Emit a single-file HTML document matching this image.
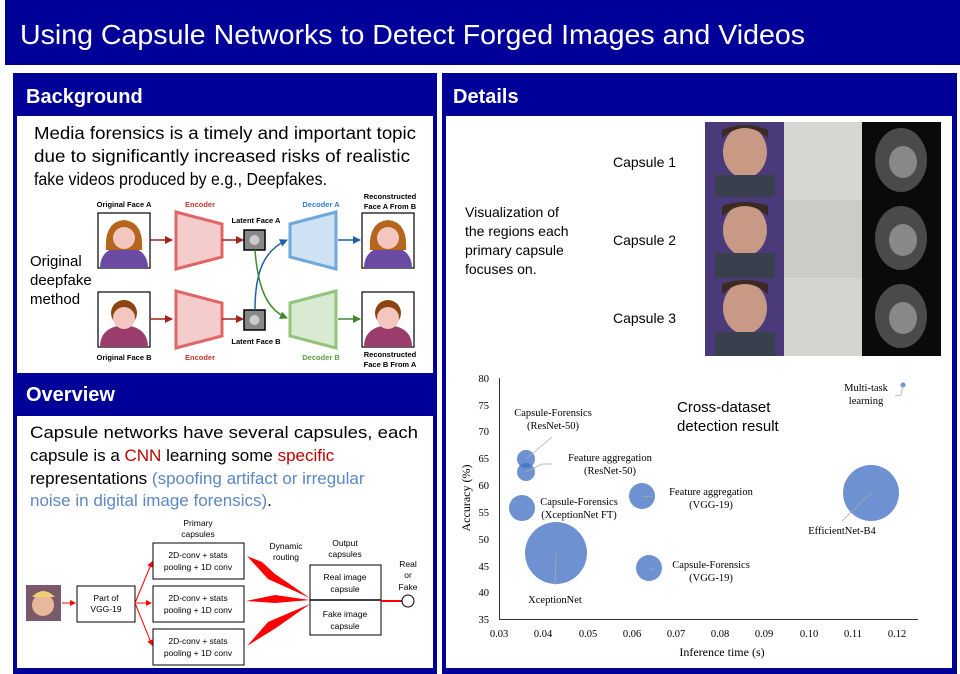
<!DOCTYPE html>
<html><head><meta charset="utf-8"><style>
html,body{margin:0;padding:0;background:#fff;}
svg{display:block;}
text{font-family:"Liberation Sans",sans-serif;}
.ser text, text.ser{font-family:"Liberation Serif",serif;}
</style></head><body>
<svg width="960" height="674" viewBox="0 0 960 674" xmlns="http://www.w3.org/2000/svg">
<defs>
<marker id="ar" markerWidth="8" markerHeight="8" refX="7" refY="4" orient="auto" markerUnits="userSpaceOnUse"><path d="M0,0 L8,4 L0,8 Z" fill="#a3231f"/></marker>
<marker id="ab" markerWidth="8" markerHeight="8" refX="7" refY="4" orient="auto" markerUnits="userSpaceOnUse"><path d="M0,0 L8,4 L0,8 Z" fill="#1f5fa3"/></marker>
<marker id="ag" markerWidth="8" markerHeight="8" refX="7" refY="4" orient="auto" markerUnits="userSpaceOnUse"><path d="M0,0 L8,4 L0,8 Z" fill="#3e8a2a"/></marker>
<marker id="rr" markerWidth="6" markerHeight="6" refX="5" refY="3" orient="auto" markerUnits="userSpaceOnUse"><path d="M0,0 L6,3 L0,6 Z" fill="#f00"/></marker>
</defs>
<!-- title -->
<rect x="5" y="0" width="955" height="65" fill="#000099"/>
<text x="20" y="44" font-size="28" fill="#fff" textLength="785" lengthAdjust="spacingAndGlyphs">Using Capsule Networks to Detect Forged Images and Videos</text>
<!-- left panel -->
<rect x="13" y="73" width="424" height="601" fill="#000099"/>
<rect x="17" y="116" width="416" height="257" fill="#fff"/>
<rect x="17" y="416" width="416" height="252" fill="#fff"/>
<text x="26" y="103" font-size="20" font-weight="bold" fill="#fff">Background</text>
<text x="26" y="401" font-size="20" font-weight="bold" fill="#fff">Overview</text>
<!-- right panel -->
<rect x="442" y="73" width="515" height="601" fill="#000099"/>
<rect x="446" y="116" width="506" height="552" fill="#fff"/>
<text x="453" y="103" font-size="20" font-weight="bold" fill="#fff">Details</text>

<!-- background text -->
<g font-size="17.5" fill="#000">
<text x="34" y="139" textLength="382" lengthAdjust="spacingAndGlyphs">Media forensics is a timely and important topic</text>
<text x="34" y="162" textLength="376" lengthAdjust="spacingAndGlyphs">due to significantly increased risks of realistic</text>
<text x="34" y="185" textLength="293" lengthAdjust="spacingAndGlyphs">fake videos produced by e.g., Deepfakes.</text>
</g>
<g font-size="15" fill="#000">
<text x="30" y="266">Original</text>
<text x="30" y="285">deepfake</text>
<text x="30" y="304">method</text>
</g>
<!-- deepfake diagram -->
<g font-size="7.5" font-weight="bold" text-anchor="middle">
<text x="124" y="207">Original Face A</text>
<text x="124" y="360">Original Face B</text>
<text x="200" y="207" fill="#c0392b">Encoder</text>
<text x="200" y="360" fill="#c0392b">Encoder</text>
<text x="256" y="223">Latent Face A</text>
<text x="256" y="344">Latent Face B</text>
<text x="321" y="207" fill="#2f7fd0">Decoder A</text>
<text x="321" y="360" fill="#5aa043">Decoder B</text>
<text x="390" y="199">Reconstructed</text>
<text x="390" y="209">Face A From B</text>
<text x="390" y="357">Reconstructed</text>
<text x="390" y="367">Face B From A</text>
</g>
<g stroke="#000" stroke-width="1.2">
<rect x="98" y="213" width="52" height="55" fill="#fff"/>
<rect x="98" y="292" width="52" height="55" fill="#fff"/>
<rect x="362" y="213" width="52" height="55" fill="#fff"/>
<rect x="362" y="292" width="52" height="55" fill="#fff"/>
</g>
<g>
<path d="M100,268 Q100,248 124,246 Q148,248 148,268Z" fill="#6a4aa3"/>
<path d="M106,250 Q104,222 124,220 Q144,222 142,250Z" fill="#b5651d"/>
<circle cx="124" cy="238" r="11" fill="#f3c6c0"/>
<path d="M100,347 Q100,327 124,325 Q148,327 148,347Z" fill="#9b3d6a"/>
<circle cx="124" cy="313" r="13" fill="#8b4513"/>
<circle cx="124" cy="318" r="11" fill="#f3c6c0"/>
<path d="M364,268 Q364,248 388,246 Q412,248 412,268Z" fill="#6a4aa3"/>
<path d="M370,250 Q368,222 388,220 Q408,222 406,250Z" fill="#b5651d"/>
<circle cx="388" cy="238" r="11" fill="#f3c6c0"/>
<path d="M364,347 Q364,327 388,325 Q412,327 412,347Z" fill="#9b3d6a"/>
<circle cx="388" cy="313" r="13" fill="#8b4513"/>
<circle cx="388" cy="318" r="11" fill="#f3c6c0"/>
</g>
<path d="M176,212 L222,224 L222,257 L176,269Z" fill="#f4cccc" stroke="#e06666" stroke-width="3"/>
<path d="M176,291 L222,303 L222,336 L176,348Z" fill="#f4cccc" stroke="#e06666" stroke-width="3"/>
<path d="M290,224 L336,212 L336,269 L290,257Z" fill="#cfe2f3" stroke="#6fa8dc" stroke-width="3"/>
<path d="M290,303 L336,291 L336,348 L290,336Z" fill="#d9ead3" stroke="#93c47d" stroke-width="3"/>
<rect x="244" y="230" width="21" height="20" fill="#888" stroke="#000" stroke-width="1.5"/>
<rect x="244" y="310" width="21" height="20" fill="#888" stroke="#000" stroke-width="1.5"/>
<circle cx="254.5" cy="240" r="5" fill="#ccc"/><circle cx="254.5" cy="320" r="5" fill="#ccc"/>
<g stroke-width="1.5" fill="none">
<line x1="150" y1="240" x2="172" y2="240" stroke="#a3231f" marker-end="url(#ar)"/>
<line x1="150" y1="319" x2="172" y2="319" stroke="#a3231f" marker-end="url(#ar)"/>
<line x1="222" y1="240" x2="243" y2="240" stroke="#a3231f" marker-end="url(#ar)"/>
<line x1="222" y1="319" x2="243" y2="319" stroke="#a3231f" marker-end="url(#ar)"/>
<path d="M255,310 C255,270 265,250 287,240" stroke="#1f5fa3" marker-end="url(#ab)"/>
<path d="M255,250 C258,290 268,310 287,318" stroke="#3e8a2a" marker-end="url(#ag)"/>
<line x1="338" y1="240" x2="360" y2="240" stroke="#1f5fa3" marker-end="url(#ab)"/>
<line x1="338" y1="319" x2="360" y2="319" stroke="#3e8a2a" marker-end="url(#ag)"/>
</g>

<!-- overview text -->
<g font-size="17" fill="#000">
<text x="30" y="438" textLength="388" lengthAdjust="spacingAndGlyphs">Capsule networks have several capsules, each</text>
<text x="30" y="461">capsule is a <tspan fill="#c00000">CNN</tspan> learning some <tspan fill="#c00000">specific</tspan></text>
<text x="30" y="484">representations <tspan fill="#5b87c5">(spoofing artifact or irregular</tspan></text>
<text x="30" y="506"><tspan fill="#5b87c5">noise in digital image forensics)</tspan>.</text>
</g>
<!-- capsule diagram -->
<rect x="26" y="585" width="35" height="36" fill="#7a5a6a"/>
<circle cx="43" cy="605" r="11" fill="#e8b89a"/>
<path d="M32,597 Q43,585 55,597" fill="#f0d070"/>
<g stroke="#000" stroke-width="1" fill="#fff">
<rect x="77" y="586" width="58" height="36"/>
<rect x="153" y="543" width="91" height="36"/>
<rect x="153" y="586" width="91" height="36"/>
<rect x="153" y="629" width="91" height="36"/>
<rect x="310" y="565" width="71" height="70"/>
</g>
<line x1="310" y1="600" x2="381" y2="600" stroke="#000" stroke-width="1.5"/>
<g font-size="8.5" text-anchor="middle" fill="#000">
<text x="106" y="601">Part of</text><text x="106" y="612">VGG-19</text>
<text x="198" y="558">2D-conv + stats</text><text x="198" y="570">pooling + 1D conv</text>
<text x="198" y="601">2D-conv + stats</text><text x="198" y="613">pooling + 1D conv</text>
<text x="198" y="644">2D-conv + stats</text><text x="198" y="656">pooling + 1D conv</text>
<text x="345" y="580">Real image</text><text x="345" y="592">capsule</text>
<text x="345" y="617">Fake image</text><text x="345" y="629">capsule</text>
<text x="198" y="526">Primary</text><text x="198" y="537">capsules</text>
<text x="286" y="549">Dynamic</text><text x="286" y="560">routing</text>
<text x="345" y="546">Output</text><text x="345" y="557">capsules</text>
<text x="408" y="567">Real</text><text x="408" y="578">or</text><text x="408" y="590">Fake</text>
</g>
<g stroke="#f00" stroke-width="1" fill="none">
<line x1="62" y1="603" x2="75" y2="603" marker-end="url(#rr)"/>
<line x1="135" y1="603" x2="152" y2="562" marker-end="url(#rr)"/>
<line x1="135" y1="603" x2="151" y2="603" marker-end="url(#rr)"/>
<line x1="135" y1="603" x2="152" y2="645" marker-end="url(#rr)"/>
</g>
<g fill="#f00">
<path d="M247,556 L275,574 L310,598 L268,579 Z M247,556 L262,562 L275,574 Z"/>
<path d="M246,601 L275,595 L310,600 L275,603 Z"/>
<path d="M247,646 L268,622 L310,604 L276,628 Z"/>
</g>
<line x1="381" y1="601" x2="402" y2="601" stroke="#f00" stroke-width="2"/>
<circle cx="408" cy="601" r="6" fill="#fff" stroke="#000"/>

<!-- details: visualization -->
<g font-size="14" fill="#000">
<text x="465" y="217">Visualization of</text>
<text x="465" y="236">the regions each</text>
<text x="465" y="255">primary capsule</text>
<text x="465" y="274">focuses on.</text>
<text x="613" y="167">Capsule 1</text>
<text x="613" y="245">Capsule 2</text>
<text x="613" y="323">Capsule 3</text>
</g>
<g>
<rect x="705" y="122" width="79" height="234" fill="#4a3a7a"/>
<g fill="#c89a86"><ellipse cx="745" cy="152" rx="22" ry="26"/><ellipse cx="745" cy="230" rx="22" ry="26"/><ellipse cx="745" cy="308" rx="22" ry="26"/></g>
<g fill="#3a2a20"><path d="M722,138 Q745,118 768,138 L768,130 Q745,120 722,130Z"/><path d="M722,216 Q745,196 768,216 L768,206 Q745,198 722,206Z"/><path d="M722,294 Q745,274 768,294 L768,284 Q745,276 722,284Z"/></g>
<g fill="#3a3f4e"><rect x="715" y="175" width="60" height="22"/><rect x="715" y="253" width="60" height="25"/><rect x="715" y="332" width="60" height="24"/></g>
<rect x="784" y="122" width="78" height="78" fill="#d6d7d3"/>
<rect x="784" y="200" width="78" height="78" fill="#cbcbc8"/>
<rect x="784" y="278" width="78" height="78" fill="#d4d5d1"/>
<rect x="862" y="122" width="79" height="234" fill="#0a0a0a"/>
<g fill="#4a4a4a"><ellipse cx="901" cy="160" rx="26" ry="32"/><ellipse cx="901" cy="238" rx="26" ry="32"/><ellipse cx="901" cy="316" rx="26" ry="32"/></g>
<g fill="#888"><ellipse cx="903" cy="162" rx="14" ry="16"/><ellipse cx="903" cy="240" rx="14" ry="16"/><ellipse cx="903" cy="318" rx="14" ry="16"/></g>
</g>

<!-- chart -->
<g stroke="#333" stroke-width="1" fill="none">
<line x1="499.5" y1="378" x2="499.5" y2="619"/>
<line x1="499" y1="619.5" x2="918" y2="619.5"/>
</g>
<g class="ser" font-size="10.5" fill="#000" text-anchor="end">
<text x="489" y="382">80</text><text x="489" y="409">75</text><text x="489" y="435">70</text>
<text x="489" y="462">65</text><text x="489" y="489">60</text><text x="489" y="516">55</text>
<text x="489" y="543">50</text><text x="489" y="570">45</text><text x="489" y="596">40</text>
<text x="489" y="623">35</text>
</g>
<g class="ser" font-size="10.5" fill="#000" text-anchor="middle">
<text x="499" y="637">0.03</text><text x="543" y="637">0.04</text><text x="588" y="637">0.05</text>
<text x="632" y="637">0.06</text><text x="676" y="637">0.07</text><text x="720" y="637">0.08</text>
<text x="764" y="637">0.09</text><text x="809" y="637">0.10</text><text x="853" y="637">0.11</text>
<text x="897" y="637">0.12</text>
<text x="722" y="656" font-size="12">Inference time (s)</text>
<text transform="translate(470,498) rotate(-90)" font-size="12">Accuracy (%)</text>
</g>
<g fill="#4472c4" fill-opacity="0.78">
<circle cx="526" cy="459" r="9"/>
<circle cx="526" cy="472" r="9"/>
<circle cx="522" cy="508" r="13"/>
<circle cx="556" cy="553" r="31"/>
<circle cx="642" cy="496" r="13"/>
<circle cx="649" cy="568" r="13"/>
<circle cx="871" cy="493" r="28"/>
<circle cx="903" cy="385" r="2.5"/>
</g>
<g stroke="#aaa" stroke-width="0.8" fill="none">
<path d="M526,459 L552,437"/><path d="M526,472 L542,464 L552,464"/>
<path d="M556,553 L555,585"/><path d="M642,496 L652,497"/><path d="M649,568 L655,570"/>
<path d="M871,493 L842,521"/><path d="M903,385 L901,395 L895,396"/>
</g>
<g class="ser" font-size="10.5" fill="#000" text-anchor="middle">
<text x="553" y="416">Capsule-Forensics</text><text x="553" y="429">(ResNet-50)</text>
<text x="610" y="461">Feature aggregation</text><text x="610" y="474">(ResNet-50)</text>
<text x="579" y="505">Capsule-Forensics</text><text x="579" y="518">(XceptionNet FT)</text>
<text x="555" y="603">XceptionNet</text>
<text x="711" y="495">Feature aggregation</text><text x="711" y="508">(VGG-19)</text>
<text x="711" y="568">Capsule-Forensics</text><text x="711" y="581">(VGG-19)</text>
<text x="842" y="534">EfficientNet-B4</text>
<text x="866" y="391">Multi-task</text><text x="866" y="404">learning</text>
</g>
<g font-size="15" fill="#000">
<text x="677" y="412">Cross-dataset</text>
<text x="677" y="431">detection result</text>
</g>
</svg>
</body></html>
